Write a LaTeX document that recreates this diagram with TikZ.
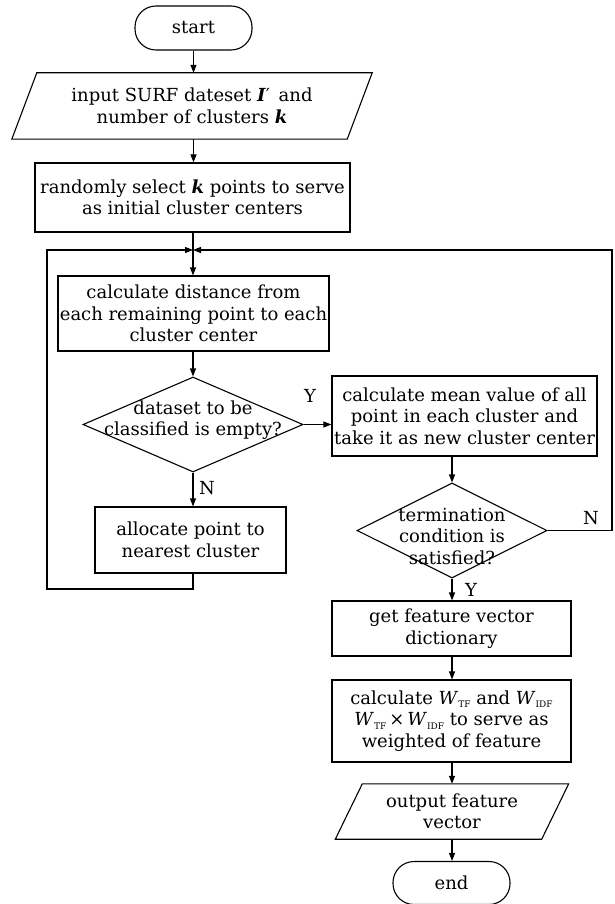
\documentclass[tikz,border=0pt]{standalone}
\usepackage{fontspec}
\setmainfont{DejaVu Serif}
\usetikzlibrary{arrows.meta,shapes.geometric}
\newcommand{\sbx}[1]{\raisebox{-0.35ex}{\fontsize{9}{9}\selectfont #1}}
\begin{document}
\begin{tikzpicture}[x=1pt,y=-1pt,
  txt/.style={align=center,font=\fontsize{18}{21.5}\selectfont,inner sep=0pt},
  box/.style={draw,line width=1.1pt,txt},
  lbl/.style={font=\fontsize{18}{21}\selectfont,inner sep=0pt},
  arr/.style={-{Triangle[length=8pt,width=6pt]},line width=1.1pt},
  ln/.style={line width=1.1pt}]
\useasboundingbox (0,0) rectangle (615,904);

% nodes
\node[box,rounded corners=21pt,minimum width=117pt,minimum height=44pt] (start) at (193.5,28) {start};
\node[txt,minimum width=335pt,minimum height=66pt] (in) at (192,106) {input SURF dateset \textbf{\textit{I}}′\, and\\number of clusters \textbf{\textit{k}}};
\draw[ln] ([xshift=-12.5pt]in.south west) -- ([xshift=12.5pt]in.north west) -- ([xshift=12.5pt]in.north east) -- ([xshift=-12.5pt]in.south east) -- cycle;
\node[box,minimum width=315pt,minimum height=69pt] (rand) at (192.5,197.5) {randomly select \textbf{\textit{k}} points to serve\\as initial cluster centers};
\coordinate (J) at (193,250);
\node[box,minimum width=271pt,minimum height=75pt] (calc) at (193.5,313.5) {calculate distance from\\each remaining point to each\\cluster center};
\node[draw,line width=1.1pt,diamond,minimum width=220pt,minimum height=95pt,inner sep=0pt] (d1) at (193,424.5) {};
\node[txt] (d1t) at (193,420) {dataset to be\\classified is empty?};
\node[box,minimum width=191pt,minimum height=66pt] (alloc) at (190.5,540) {allocate point to\\nearest cluster};
\node[box,minimum width=265pt,minimum height=80pt] (mean) at (464.5,416) {calculate mean value of all\\point in each cluster and\\take it as new cluster center};
\node[draw,line width=1.1pt,diamond,minimum width=190pt,minimum height=95pt,inner sep=0pt] (d2) at (452,530.5) {};
\node[txt] (d2t) at (452,536) {termination\\condition is\\satisfied?};
\node[box,minimum width=239pt,minimum height=55pt] (feat) at (451.5,628.5) {get feature vector\\dictionary};
\node[box,minimum width=239pt,minimum height=82pt] (wt) at (451.5,721) {calculate \textit{W}\sbx{TF} and \textit{W}\sbx{IDF}\\\textit{W}\sbx{TF}\,×\,\textit{W}\sbx{IDF} to serve as\\weighted of feature};
\node[txt,minimum width=206pt,minimum height=55pt] (out) at (452,811.5) {output feature\\vector};
\draw[ln] ([xshift=-13.5pt]out.south west) -- ([xshift=13.5pt]out.north west) -- ([xshift=13.5pt]out.north east) -- ([xshift=-13.5pt]out.south east) -- cycle;
\node[box,rounded corners=21pt,minimum width=117pt,minimum height=43pt] (end) at (451.5,883) {end};

\coordinate (lb) at (47,589);
\coordinate (rt) at (612,250);

% connectors
\draw[arr] (start) -- (in.north -| start);
\draw[arr] (in.south -| start) -- (rand.north -| start);
\draw[ln] (rand.south -| J) -- (J);
\draw[arr] (J) -- (calc.north -| J);
\draw[arr] (calc.south -| d1) -- (d1.north);
\draw[arr] (d1.south) -- (alloc.north -| d1);
\draw[arr] (alloc.south -| d1) |- (lb) |- (J);
\draw[arr] (d1.east) -- (d1.east -| mean.west);
\draw[arr] (mean.south -| d2) -- (d2.north);
\draw[arr] (d2.east) -| (rt) -- (J);
\draw[arr] (d2.south) -- (feat.north -| d2);
\draw[arr] (feat.south -| d2) -- (wt.north -| d2);
\draw[arr] (wt.south -| d2) -- (out.north -| d2);
\draw[arr] (out.south -| d2) -- (end.north -| d2);

% labels
\node[lbl] (ly1) at (310,396) {Y};
\node[lbl] (ln1) at (207,488) {N};
\node[lbl] (ln2) at (591,518) {N};
\node[lbl] (ly2) at (471,590) {Y};
\end{tikzpicture}
\end{document}
